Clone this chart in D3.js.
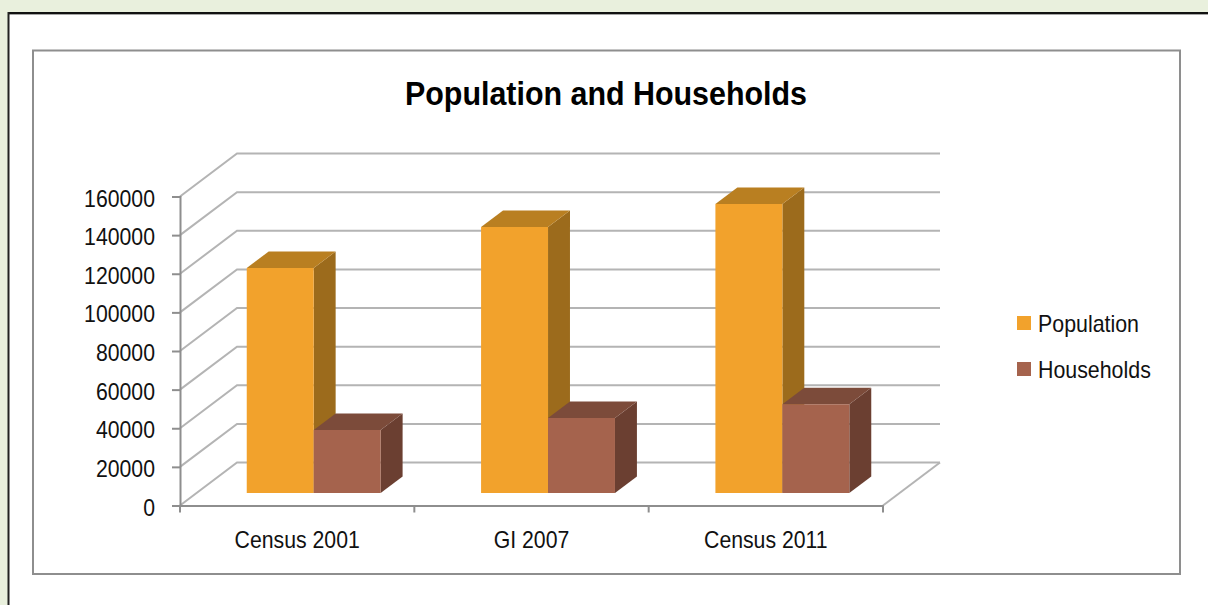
<!DOCTYPE html>
<html>
<head>
<meta charset="utf-8">
<script src="https://cdn.jsdelivr.net/npm/d3@7"></script>
<style>
html, body { margin: 0; padding: 0; background: #fff; }
svg { display: block; }
text { font-family: "Liberation Sans", Arial, sans-serif; fill: #111; }
</style>
</head>
<body>
<svg id="chart" width="1208" height="605"></svg>
<script>
const categories = ["Census 2001", "GI 2007", "Census 2011"];
const seriesNames = ["Population", "Households"];
const population = [116500, 137700, 149600];
const households = [32600, 38800, 46000];
const yTicks = [0, 20000, 40000, 60000, 80000, 100000, 120000, 140000, 160000];

const colors = {
  Population: { front: "#f2a22c", top: "#b97f21", side: "#9c6b1c" },
  Households: { front: "#a5634d", top: "#7c4b3a", side: "#6b3f31" }
};

const svg = d3.select("#chart");

// Condenses a text selection horizontally, keeping its font height
function condense(sel, factor) {
  sel.each(function () {
    const len = this.getComputedTextLength();
    d3.select(this).attr("textLength", len * factor).attr("lengthAdjust", "spacingAndGlyphs");
  });
}

// Page frame: tinted margin above and to the left, white everywhere else
svg.append("rect").attr("width", 1208).attr("height", 605).attr("fill", "#fff");
svg.append("rect").attr("width", 1208).attr("height", 13).attr("fill", "#e9f0dd");
svg.append("rect").attr("width", 8).attr("height", 605).attr("fill", "#e9f0dd");
svg.append("line").attr("x1", 8).attr("x2", 1208).attr("y1", 14.5).attr("y2", 14.5)
  .attr("stroke", "#a5a5a5").attr("stroke-width", 1);
svg.append("line").attr("x1", 8).attr("x2", 1208).attr("y1", 13).attr("y2", 13)
  .attr("stroke", "#111").attr("stroke-width", 2);
svg.append("line").attr("x1", 8.5).attr("x2", 8.5).attr("y1", 12).attr("y2", 605)
  .attr("stroke", "#222").attr("stroke-width", 2);

// Chart area
svg.append("rect").attr("x", 33).attr("y", 50.5).attr("width", 1147).attr("height", 523.5)
  .attr("fill", "#fff").attr("stroke", "#8e8e8e").attr("stroke-width", 2);

svg.append("text").attr("x", 606).attr("y", 105).attr("text-anchor", "middle")
  .attr("font-size", 34).attr("font-weight", 700).attr("textLength", 402)
  .attr("lengthAdjust", "spacingAndGlyphs").style("fill", "#000")
  .text("Population and Households");

// Scales on the front plane of the plot box
const x = d3.scaleBand().domain(categories).range([180, 883]);
const y = d3.scaleLinear().domain([0, 160000]).range([505.5, 196.5]);

// Oblique projection: depth 0 is the front plane, depth 1 the back wall
const wallDx = 57, wallDy = -43;
const project = (px, py, depth) => [px + wallDx * depth, py + wallDy * depth];

// Floor, wall gridlines and side-wall gridlines
const grid = svg.append("g").attr("fill", "none").attr("stroke", "#b4b4b4").attr("stroke-width", 2);
const gridPath = d3.line();
yTicks.forEach(t => {
  const a = project(x.range()[0], y(t), 0);
  const b = project(x.range()[0], y(t), 1);
  const c = project(x.range()[1], y(t), 1);
  grid.append("path").attr("d", gridPath([a, b, c]));
});
grid.append("path").attr("d", gridPath([
  project(x.range()[1], y(0), 0),
  project(x.range()[1], y(0), 1)
]));

// Value axis
const yAxis = svg.append("g").attr("transform", `translate(${x.range()[0]},0)`)
  .call(d3.axisLeft(y).tickValues(yTicks).tickFormat(d3.format("d")).tickSize(8).tickPadding(17));
// Category axis with ticks on the band edges
const xAxis = svg.append("g").attr("transform", `translate(0,${y(0)})`)
  .call(d3.axisBottom(x).tickSize(0).tickPadding(25));
xAxis.selectAll(".tick line").remove();
x.domain().concat(null).forEach((c, i) => {
  const tx = x.range()[0] + i * x.step();
  xAxis.append("line").attr("x1", tx).attr("x2", tx).attr("y1", 0).attr("y2", 7);
});
[yAxis, xAxis].forEach(g => {
  g.select(".domain").attr("stroke", "#8e8e8e").attr("stroke-width", 2);
  g.selectAll("line").attr("stroke", "#8e8e8e").attr("stroke-width", 2);
  g.selectAll("text").attr("font-size", 24).attr("font-family", '"Liberation Sans", Arial, sans-serif')
    .style("fill", "#111");
});
yAxis.selectAll("text").attr("dy", "0.40em").call(condense, 0.885);
xAxis.selectAll("text").call(condense, 0.885);

// 3D bars: two columns per category, sitting inside the floor depth
const barFront = 0.29, barDepth = 0.385;
const inner = d3.scaleBand().domain(seriesNames).range([0, x.bandwidth()]).paddingOuter(0.75).paddingInner(0);
const rows = categories.map((c, i) => [
  { cat: c, name: "Population", value: population[i] },
  { cat: c, name: "Households", value: households[i] }
]).flat();

const bars = svg.append("g").selectAll("g").data(rows).join("g");
const poly = pts => "M" + pts.map(p => p.join(",")).join("L") + "Z";
bars.each(function (d) {
  const g = d3.select(this);
  const x0 = x(d.cat) + inner(d.name);
  const x1 = x0 + inner.bandwidth();
  const yT = y(d.value), yB = y(0);
  const f = barFront, b = barFront + barDepth;
  g.append("path").attr("fill", colors[d.name].side)
    .attr("d", poly([project(x1, yT, f), project(x1, yT, b), project(x1, yB, b), project(x1, yB, f)]));
  g.append("path").attr("fill", colors[d.name].top)
    .attr("d", poly([project(x0, yT, f), project(x0, yT, b), project(x1, yT, b), project(x1, yT, f)]));
  g.append("path").attr("fill", colors[d.name].front)
    .attr("d", poly([project(x0, yT, f), project(x1, yT, f), project(x1, yB, f), project(x0, yB, f)]));
});

// Legend
const legend = svg.append("g").selectAll("g").data(seriesNames).join("g")
  .attr("transform", (d, i) => `translate(1017,${316 + i * 46})`);
legend.append("rect").attr("width", 14).attr("height", 14).attr("fill", d => colors[d].front);
legend.append("text").attr("x", 21).attr("y", 15.5).attr("font-size", 24).text(d => d).call(condense, 0.89);
</script>
</body>
</html>
